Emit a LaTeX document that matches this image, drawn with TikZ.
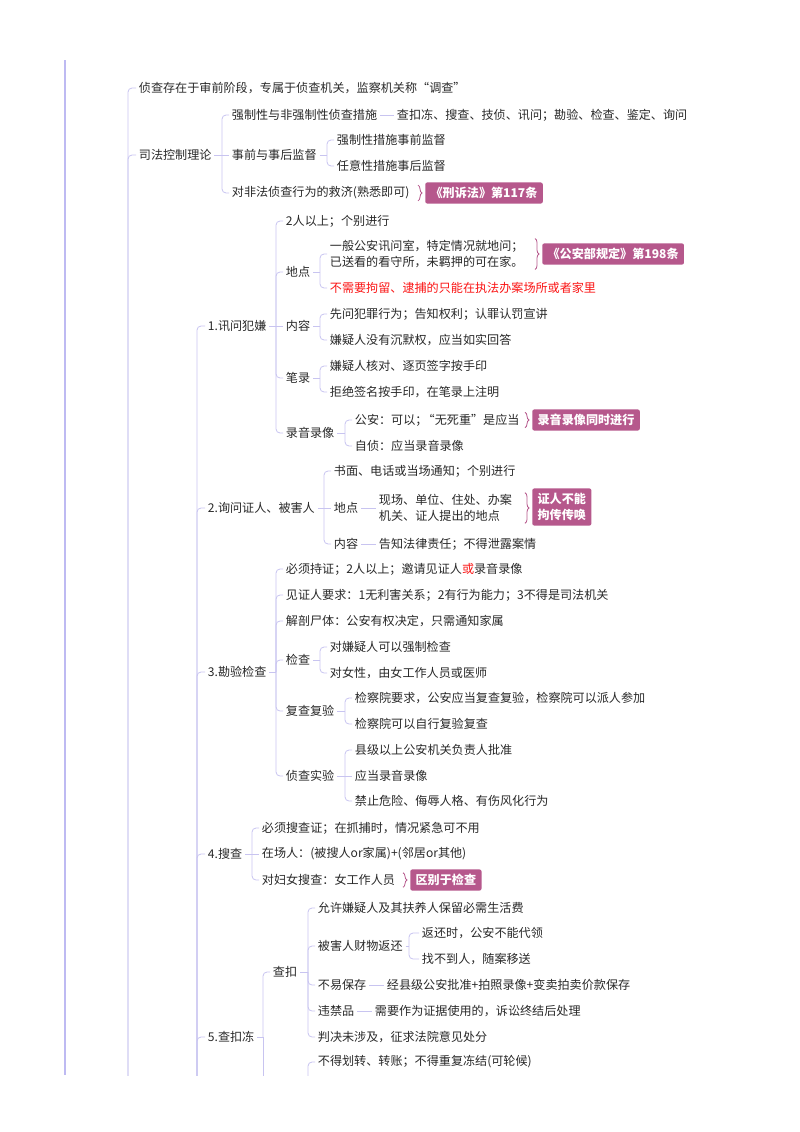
\documentclass[tikz,border=0pt]{standalone}
\usepackage{fontspec}
\setmainfont{Noto Sans CJK SC}
\usetikzlibrary{calc,decorations.pathreplacing}
\definecolor{linkc}{RGB}{200,196,240}
\definecolor{railc}{RGB}{190,186,242}
\definecolor{tagc}{RGB}{182,88,140}
\definecolor{inkc}{RGB}{40,40,40}
\definecolor{redc}{RGB}{250,20,20}
\tikzset{
	topic/.style={anchor=west, inner xsep=2pt, inner ysep=1pt, text=inkc, align=left, font=\fontsize{9}{12}\selectfont},
	tag/.style={anchor=west, fill=tagc, text=white, rounded corners=1.5pt, inner xsep=4pt, inner ysep=3.5pt, align=left, font=\bfseries\fontsize{9}{12}\selectfont},
	link/.style={draw=linkc, line width=0.6pt, rounded corners=3pt},
	rail/.style={draw=railc, line width=1.4pt},
	brc/.style={draw=tagc, line width=0.6pt, decorate, decoration={brace, amplitude=3pt}}
}
% stub from parent to bracket, then a bent tick to every child off the parent's line
\newcommand{\fork}[3]{%
	\draw[link] (#1.east) -- (#2,0 |- #1.east);
	\foreach \kid in {#3} {\draw[link] (#2,0 |- #1.east) |- (\kid.west);}}
\newcommand{\brtag}[2]{% text node, tag node
	\draw[brc] ($(#1.north -| #2.west)+(-7,0)$) -- ($(#1.south -| #2.west)+(-7,0)$);}

\begin{document}
\begin{tikzpicture}[x=0.744pt, y=-0.744pt]
			%%%%% START %%%%%
			\useasboundingbox (0, 0) rectangle (800, 1132);
			\draw[rail] (65, 60) -- (65, 1075);
			
			\node[topic] (qz) at (136, 88) {侦查存在于审前阶段，专属于侦查机关，监察机关称“调查”};
			\node[topic] (sf) at (136, 155) {司法控制理论};
			\node[topic] (sf1) at (229, 115) {强制性与非强制性侦查措施};
			\node[topic] (sf1a) at (394, 115) {查扣冻、搜查、技侦、讯问；勘验、检查、鉴定、询问};
			\node[topic] (sf2) at (229, 155) {事前与事后监督};
			\node[topic] (sf2a) at (334, 140) {强制性措施事前监督};
			\node[topic] (sf2b) at (334, 166) {任意性措施事后监督};
			\node[topic] (sf3) at (229, 193) {对非法侦查行为的救济(熟悉即可)};
			\node[tag] (t1) at (425, 193) {《刑诉法》第117条};
			
			% 1
			\node[topic] (s1) at (205, 326) {1.讯问犯嫌};
			\node[topic] (a1) at (283, 221) {2人以上；个别进行};
			\node[topic] (a2) at (283, 272) {地点};
			\node[topic] (a21) at (327, 254) {一般公安讯问室，特定情况就地问；\\已送看的看守所，未羁押的可在家。};
			\node[tag] (t2) at (542, 254) {《公安部规定》第198条};
			\node[topic, text=redc] (a22) at (327, 288) {不需要拘留、逮捕的只能在执法办案场所或者家里};
			\node[topic] (a3) at (283, 326) {内容};
			\node[topic] (a31) at (327, 314) {先问犯罪行为；告知权利；认罪认罚宣讲};
			\node[topic] (a32) at (327, 340) {嫌疑人没有沉默权，应当如实回答};
			\node[topic] (a4) at (283, 378) {笔录};
			\node[topic] (a41) at (327, 366) {嫌疑人核对、逐页签字按手印};
			\node[topic] (a42) at (327, 392) {拒绝签名按手印，在笔录上注明};
			\node[topic] (a5) at (283, 433) {录音录像};
			\node[topic] (a51) at (352, 420) {公安：可以；\kern-0.4em“无死重"是应当};
			\node[tag] (t3) at (532, 420) {录音录像同时进行};
			\node[topic] (a52) at (352, 446) {自侦：应当录音录像};
			
			% 2
			\node[topic] (s2) at (205, 508) {2.询问证人、被害人};
			\node[topic] (b1) at (331, 471) {书面、电话或当场通知；个别进行};
			\node[topic] (b2) at (331, 508) {地点};
			\node[topic] (b21) at (376, 508) {现场、单位、住处、办案\\机关、证人提出的地点};
			\node[tag] (t4) at (532, 507) {证人不能\\拘传传唤};
			\node[topic] (b3) at (331, 544) {内容};
			\node[topic] (b31) at (376, 544) {告知法律责任；不得泄露案情};
			
			% 3
			\node[topic] (s3) at (205, 672) {3.勘验检查};
			\node[topic] (c1) at (283, 569) {必须持证；2人以上；邀请见证人{\color{redc}或}录音录像};
			\node[topic] (c2) at (283, 595) {见证人要求：1无利害关系；2有行为能力；3不得是司法机关};
			\node[topic] (c3) at (283, 621) {解剖尸体：公安有权决定，只需通知家属};
			\node[topic] (c4) at (283, 660) {检查};
			\node[topic] (c41) at (327, 647) {对嫌疑人可以强制检查};
			\node[topic] (c42) at (327, 673) {对女性，由女工作人员或医师};
			\node[topic] (c5) at (283, 711) {复查复验};
			\node[topic] (c51) at (352, 698) {检察院要求，公安应当复查复验，检察院可以派人参加};
			\node[topic] (c52) at (352, 724) {检察院可以自行复验复查};
			\node[topic] (c6) at (283, 776) {侦查实验};
			\node[topic] (c61) at (352, 750) {县级以上公安机关负责人批准};
			\node[topic] (c62) at (352, 776) {应当录音录像};
			\node[topic] (c63) at (352, 801) {禁止危险、侮辱人格、有伤风化行为};
			
			% 4
			\node[topic] (s4) at (205, 854) {4.搜查};
			\node[topic] (d1) at (259, 828) {必须搜查证；在抓捕时，情况紧急可不用};
			\node[topic] (d2) at (259, 854) {在场人：(被搜人or家属)+(邻居or其他)};
			\node[topic] (d3) at (259, 880) {对妇女搜查：女工作人员};
			\node[tag] (t5) at (410, 880) {区别于检查};
			
			% 5
			\node[topic] (s5) at (205, 1037) {5.查扣冻};
			\node[topic] (e1) at (270, 972) {查扣};
			\node[topic] (e11) at (315, 908) {允许嫌疑人及其扶养人保留必需生活费};
			\node[topic] (e12) at (315, 946) {被害人财物返还};
			\node[topic] (e121) at (419, 933) {返还时，公安不能代领};
			\node[topic] (e122) at (419, 959) {找不到人，随案移送};
			\node[topic] (e13) at (315, 985) {不易保存};
			\node[topic] (e131) at (384, 985) {经县级公安批准+拍照录像+变卖拍卖价款保存};
			\node[topic] (e14) at (315, 1011) {违禁品};
			\node[topic] (e141) at (372, 1011) {需要作为证据使用的，诉讼终结后处理};
			\node[topic] (e15) at (315, 1037) {判决未涉及，征求法院意见处分};
			\node[topic] (e21) at (315, 1062) {不得划转、转账；不得重复冻结(可轮候)};
			
			\brtag{sf3}{t1}
			\brtag{a21}{t2}
			\brtag{a51}{t3}
			\brtag{b21}{t4}
			\brtag{d3}{t5}
			
			\begin{scope}
				\clip (0, 0) rectangle (800, 1075);
				\coordinate (gr) at (128, 1130);
				\coordinate (zc) at (197, 1130);
				\coordinate (dg) at (263, 1130);
				\coordinate (dj) at (308, 1130);
				\draw[link] (gr) |- (qz.west);
				\draw[link] (gr) |- (sf.west);
				\foreach \s in {s1,s2,s3,s4,s5} {\draw[link] (zc) |- (\s.west);}
				\fork{sf}{222}{sf1,sf3}
				\draw[link] (sf.east) -- (sf2.west);
				\draw[link] (sf1.east) -- (sf1a.west);
				\fork{sf2}{327}{sf2a,sf2b}
				\fork{s1}{276}{a1,a2,a4,a5}
				\draw[link] (s1.east) -- (a3.west);
				\fork{a2}{320}{a21,a22}
				\fork{a3}{320}{a31,a32}
				\fork{a4}{320}{a41,a42}
				\fork{a5}{345}{a51,a52}
				\fork{s2}{324}{b1,b3}
				\draw[link] (s2.east) -- (b2.west);
				\draw[link] (b2.east) -- (b21.west);
				\draw[link] (b3.east) -- (b31.west);
				\fork{s3}{276}{c1,c2,c3,c4,c5,c6}
				\fork{c4}{320}{c41,c42}
				\fork{c5}{345}{c51,c52}
				\fork{c6}{345}{c61,c63}
				\draw[link] (c6.east) -- (c62.west);
				\fork{s4}{252}{d1,d3}
				\draw[link] (s4.east) -- (d2.west);
				\fork{s5}{263}{e1}
				\draw[link] (s5.east -| dg) -- (dg);
				\fork{e1}{308}{e11,e12,e13,e14,e15}
				\fork{e12}{409}{e121,e122}
				\draw[link] (e13.east) -- (e131.west);
				\draw[link] (e14.east) -- (e141.west);
				\draw[link] (dj) |- (e21.west);
			\end{scope}
			
			%%%%% END %%%%%
\end{tikzpicture}
\end{document}
